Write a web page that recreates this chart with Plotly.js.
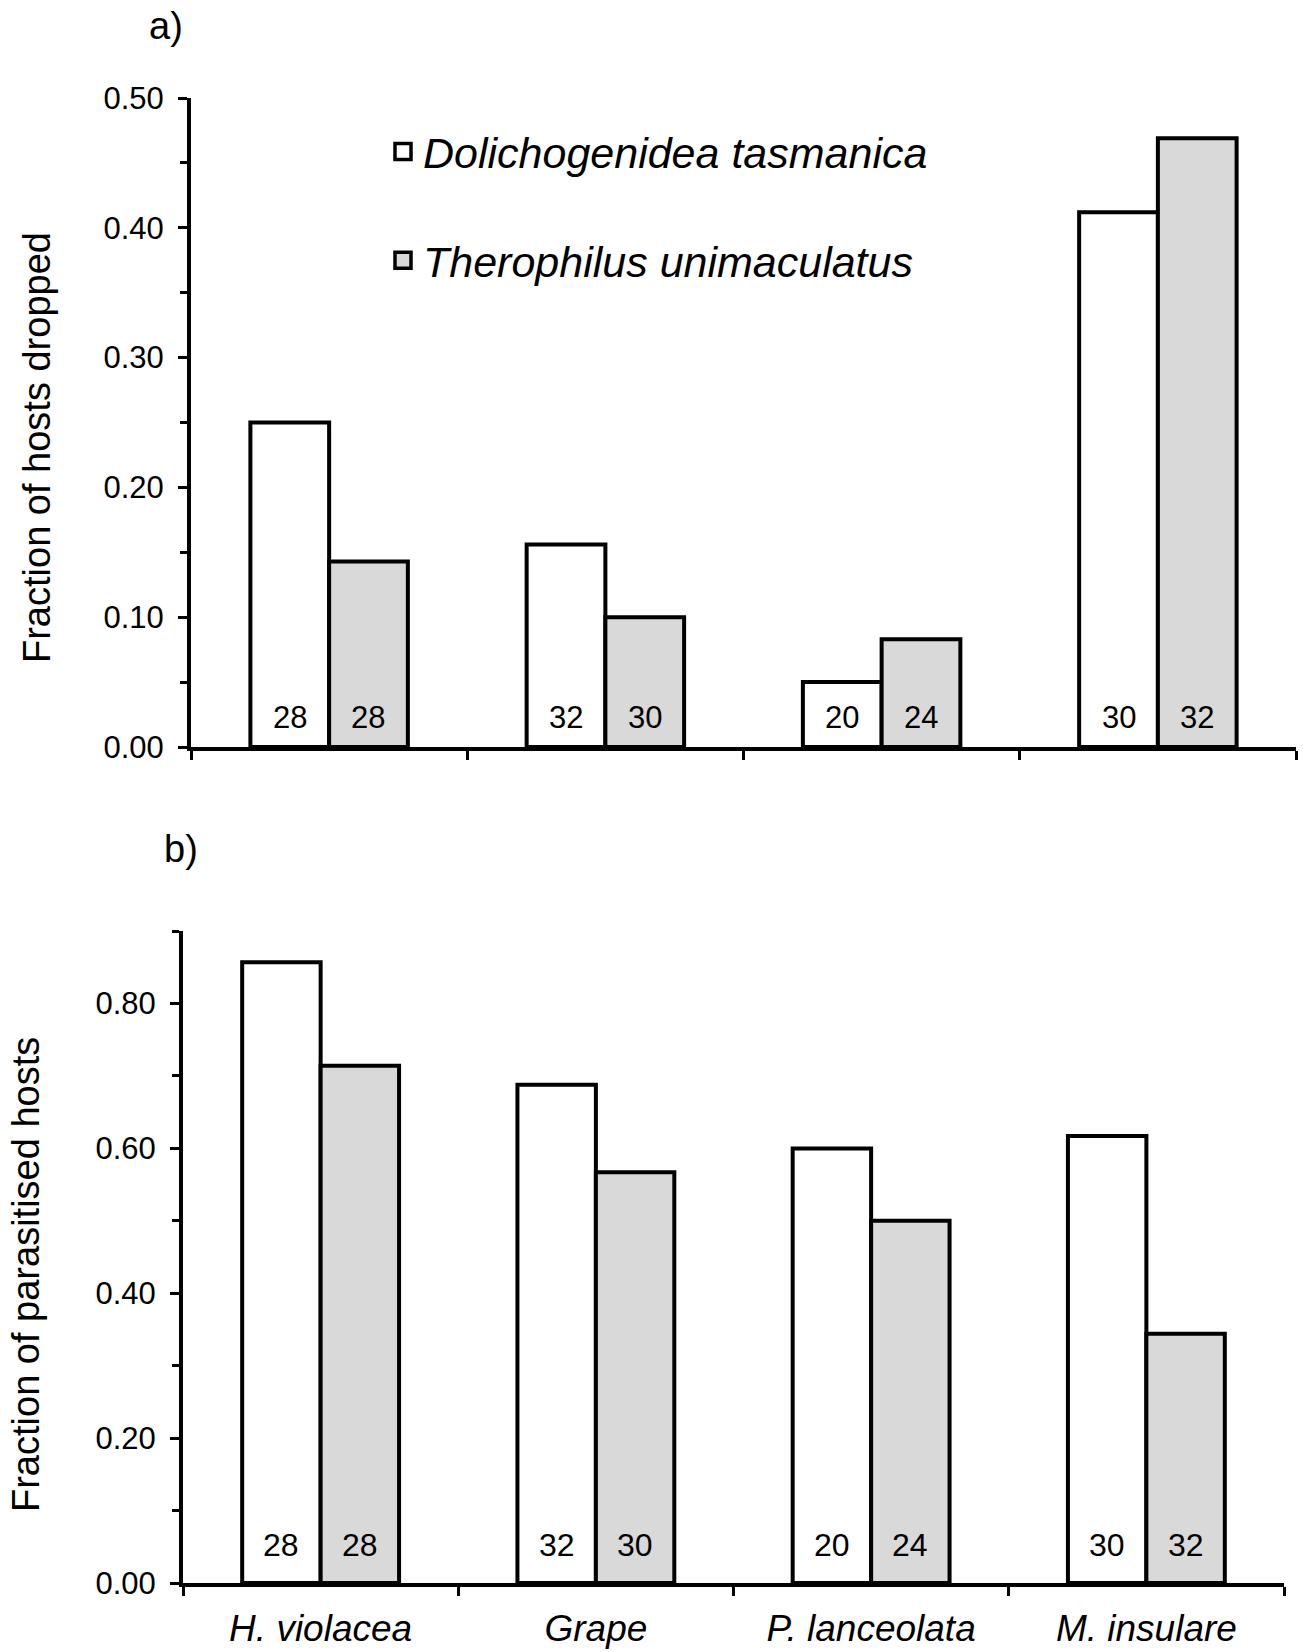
<!DOCTYPE html>
<html><head><meta charset="utf-8">
<script src="https://cdn.plot.ly/plotly-3.0.1.min.js"></script>
<style>html,body{margin:0;padding:0;background:#fff}#chart{width:1303px;height:1652px}</style>
</head><body><div id="chart"></div>
<script>
// ---- data ----
const categories = ['H. violacea', 'Grape', 'P. lanceolata', 'M. insulare'];
const seriesNames = ['Dolichogenidea tasmanica', 'Therophilus unimaculatus'];
const droppedD = [0.250, 0.156, 0.050, 0.412];
const droppedT = [0.143, 0.100, 0.083, 0.469];
const parasitisedD = [0.857, 0.688, 0.600, 0.617];
const parasitisedT = [0.714, 0.567, 0.500, 0.344];
const nD = [28, 32, 20, 30];
const nT = [28, 30, 24, 32];
const panelLabels = ['a)', 'b)'];
const yTitles = ['Fraction of hosts dropped', 'Fraction of parasitised hosts'];

// ---- style ----
const FONT = 'Liberation Sans, Arial, Helvetica, sans-serif';
const WHITE = '#ffffff', GREY = '#d9d9d9', BLACK = '#000000';
const BARGAP = 0.43;
const LW = 4;

function bar(y, color, xa, ya, name) {
  return {
    type: 'bar', x: categories, y: y, xaxis: xa, yaxis: ya, name: name,
    marker: {color: color, line: {color: BLACK, width: LW}},
    showlegend: false, hoverinfo: 'skip'
  };
}
function legendItem(name, color, group) {
  return {
    type: 'scatter', mode: 'markers', x: [null], y: [null], xaxis: 'x', yaxis: 'y',
    name: name, legendgroup: group, showlegend: true, hoverinfo: 'skip',
    marker: {symbol: 'square', size: 16, color: color, line: {color: BLACK, width: 3.5}}
  };
}

const traces = [
  bar(droppedD, WHITE, 'x', 'y', seriesNames[0]),
  bar(droppedT, GREY, 'x', 'y', seriesNames[1]),
  bar(parasitisedD, WHITE, 'x2', 'y2', seriesNames[0]),
  bar(parasitisedT, GREY, 'x2', 'y2', seriesNames[1]),
  legendItem(seriesNames[0], WHITE, 'g1'),
  legendItem(seriesNames[1], GREY, 'g2')
];

const off = (1 - BARGAP) / 4;
const annotations = [];
categories.forEach((c, i) => {
  annotations.push({xref: 'x', yref: 'y', x: i - off, y: 0.0225, text: String(nD[i]), showarrow: false, font: {size: 31}});
  annotations.push({xref: 'x', yref: 'y', x: i + off, y: 0.0225, text: String(nT[i]), showarrow: false, font: {size: 31}});
  annotations.push({xref: 'x2', yref: 'y2', x: i - off, y: 0.053, text: String(nD[i]), showarrow: false, font: {size: 32}});
  annotations.push({xref: 'x2', yref: 'y2', x: i + off, y: 0.053, text: String(nT[i]), showarrow: false, font: {size: 32}});
});
const pa = {xref: 'paper', yref: 'paper', showarrow: false, xanchor: 'center', yanchor: 'middle'};
annotations.push(Object.assign({}, pa, {x: 166/1303, y: 1 - 26/1652, text: panelLabels[0], font: {size: 38}}));
annotations.push(Object.assign({}, pa, {x: 181/1303, y: 1 - 849/1652, text: panelLabels[1], font: {size: 38}}));
annotations.push(Object.assign({}, pa, {x: 37/1303, y: 1 - 448/1652, text: yTitles[0], textangle: -90, font: {size: 38}}));
annotations.push(Object.assign({}, pa, {x: 26/1303, y: 1 - 1275/1652, text: yTitles[1], textangle: -90, font: {size: 38}}));

const xBase = {
  type: 'category', showline: true, linewidth: LW, linecolor: BLACK, mirror: false,
  ticks: 'outside', tickson: 'boundaries', ticklen: 9, tickwidth: 3, tickcolor: BLACK,
  showgrid: false, zeroline: false, fixedrange: true
};
const yBase = {
  showline: true, linewidth: LW, linecolor: BLACK, ticks: 'outside', ticklen: 9, tickwidth: 3,
  tickcolor: BLACK, showgrid: false, zeroline: false, tickformat: '.2f', tickmode: 'linear', tick0: 0,
  fixedrange: true, ticklabelstandoff: 8
};

const layout = {
  width: 1303, height: 1652,
  margin: {l: 0, r: 0, t: 0, b: 0},
  paper_bgcolor: WHITE, plot_bgcolor: WHITE,
  font: {family: FONT, color: BLACK, size: 30},
  barmode: 'group', bargap: BARGAP, bargroupgap: 0,
  showlegend: true,
  legend: {
    x: 383/1303, y: 1 - 117/1652, xanchor: 'left', yanchor: 'top',
    font: {size: 43, style: 'italic', family: FONT},
    traceorder: 'grouped', tracegroupgap: 50, itemsizing: 'trace',
    bgcolor: 'rgba(0,0,0,0)', borderwidth: 0
  },
  xaxis: Object.assign({}, xBase, {domain: [191/1303, 1296/1303], anchor: 'y', showticklabels: false}),
  yaxis: Object.assign({}, yBase, {domain: [905/1652, 1554/1652], anchor: 'x', range: [0, 0.5], dtick: 0.1,
    tickfont: {size: 31},
    minor: {tickmode: 'linear', tick0: 0, dtick: 0.05, ticks: 'outside', ticklen: 7, tickwidth: 3, tickcolor: BLACK, showgrid: false}}),
  xaxis2: Object.assign({}, xBase, {domain: [183/1303, 1284/1303], anchor: 'y2', showticklabels: true,
    tickfont: {size: 37, style: 'italic'}, ticklabelstandoff: 10}),
  yaxis2: Object.assign({}, yBase, {domain: [69/1652, 721/1652], anchor: 'x2', range: [0, 0.9001], dtick: 0.2,
    tickfont: {size: 31},
    minor: {tickmode: 'linear', tick0: 0, dtick: 0.1, ticks: 'outside', ticklen: 7, tickwidth: 3, tickcolor: BLACK, showgrid: false}}),
  annotations: annotations
};

Plotly.newPlot('chart', traces, layout, {staticPlot: true, displayModeBar: false});
</script>
</body></html>
